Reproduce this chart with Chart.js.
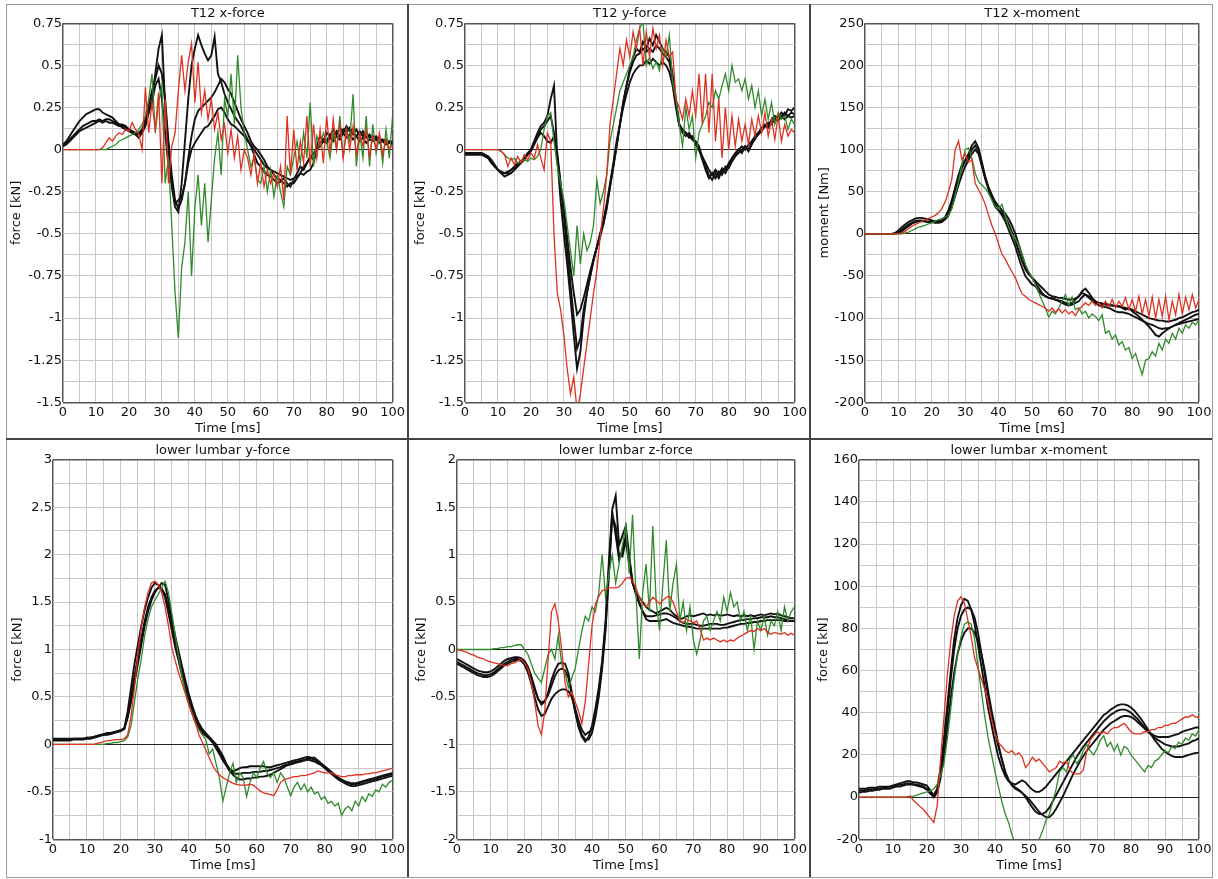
<!DOCTYPE html>
<html>
<head>
<meta charset="utf-8">
<title>T12 / lower lumbar loads</title>
<script src="https://cdn.jsdelivr.net/npm/chart.js@4.4.1/dist/chart.umd.min.js"></script>
<style>
body { margin: 0; background: #fff; }
#sheet { position: relative; width: 1218px; height: 879px; overflow: hidden; }
#sheet canvas { position: absolute; }
.rule { position: absolute; background: #444; }
#frame { position: absolute; left: 6px; top: 4px; width: 1205px; height: 872px; border: 1px solid #9a9a9a; }
</style>
</head>
<body>
<div id="sheet">
  <canvas id="c1" width="408" height="439" style="left:0;top:0"></canvas>
  <canvas id="c2" width="402" height="439" style="left:408px;top:0"></canvas>
  <canvas id="c3" width="408" height="439" style="left:810px;top:0"></canvas>
  <canvas id="c4" width="408" height="440" style="left:0;top:439px"></canvas>
  <canvas id="c5" width="402" height="440" style="left:408px;top:439px"></canvas>
  <canvas id="c6" width="408" height="440" style="left:810px;top:439px"></canvas>
  <div id="frame"></div>
  <div class="rule" style="left:407px;top:4px;width:2px;height:873px"></div>
  <div class="rule" style="left:809px;top:4px;width:2px;height:873px"></div>
  <div class="rule" style="left:6px;top:438px;width:1206px;height:2px"></div>
</div>
<script>
// time axis, ms
var timeMs = [0,1,2,3,4,5,6,7,8,9,10,11,12,13,14,15,16,17,18,19,20,21,22,23,24,25,26,27,28,29,
  30,31,32,33,34,35,36,37,38,39,40,41,42,43,44,45,46,47,48,49,50,51,52,53,54,55,56,57,58,59,
  60,61,62,63,64,65,66,67,68,69,70,71,72,73,74,75,76,77,78,79,80,81,82,83,84,85,86,87,88,89,
  90,91,92,93,94,95,96,97,98,99,100];

// ---- T12 x-force [kN]
var t12xForceK1 = [0.03,0.05,0.08,0.11,0.14,0.17,0.19,0.21,0.22,0.23,
  0.24,0.24,0.22,0.21,0.2,0.19,0.17,0.15,0.13,0.12,
  0.11,0.1,0.09,0.07,0.1,0.14,0.22,0.3,0.45,0.6,
  0.68,0.25,0.02,-0.22,-0.34,-0.37,-0.2,0.05,0.3,0.5,
  0.6,0.68,0.62,0.57,0.53,0.56,0.67,0.45,0.4,0.33,
  0.28,0.24,0.2,0.17,0.14,0.1,0.06,0.02,-0.03,-0.08,
  -0.1,-0.13,-0.15,-0.16,-0.18,-0.2,-0.19,-0.17,-0.2,-0.22,
  -0.18,-0.14,-0.1,-0.12,-0.08,-0.04,-0.06,0.02,0.08,0.05,
  0.1,0.08,0.12,0.09,0.13,0.1,0.14,0.11,0.09,0.12,
  0.08,0.11,0.07,0.09,0.06,0.08,0.05,0.06,0.04,0.05,0.03];
var t12xForceK2 = [0.02,0.04,0.06,0.08,0.1,0.12,0.14,0.15,0.16,0.17,
  0.17,0.18,0.17,0.18,0.18,0.17,0.16,0.15,0.15,0.14,
  0.12,0.1,0.09,0.1,0.12,0.18,0.26,0.35,0.42,0.5,
  0.45,0.3,0.05,-0.15,-0.3,-0.35,-0.3,-0.2,-0.05,0.08,
  0.18,0.23,0.25,0.27,0.29,0.31,0.34,0.38,0.42,0.4,
  0.36,0.33,0.28,0.23,0.18,0.14,0.1,0.05,0.02,0.0,
  -0.03,-0.06,-0.1,-0.12,-0.15,-0.17,-0.18,-0.2,-0.22,-0.2,
  -0.2,-0.17,-0.14,-0.1,-0.08,-0.05,-0.02,0.0,0.04,0.06,
  0.05,0.09,0.07,0.11,0.08,0.12,0.1,0.13,0.1,0.08,
  0.11,0.08,0.1,0.07,0.08,0.06,0.07,0.05,0.06,0.04,0.05];
var t12xForceK3 = [0.02,0.03,0.05,0.07,0.09,0.11,0.12,0.13,0.14,0.15,
  0.16,0.17,0.16,0.17,0.16,0.16,0.15,0.14,0.14,0.13,
  0.12,0.11,0.1,0.09,0.11,0.16,0.22,0.28,0.38,0.42,
  0.3,0.1,-0.1,-0.2,-0.32,-0.3,-0.28,-0.2,-0.08,0.0,
  0.04,0.07,0.1,0.13,0.14,0.17,0.2,0.24,0.25,0.22,
  0.18,0.15,0.14,0.12,0.1,0.08,0.05,0.03,0.0,-0.03,
  -0.06,-0.09,-0.11,-0.12,-0.13,-0.14,-0.15,-0.16,-0.17,-0.18,
  -0.17,-0.16,-0.14,-0.15,-0.13,-0.12,-0.08,0.0,0.02,0.05,
  0.04,0.07,0.05,0.08,0.06,0.1,0.07,0.09,0.06,0.08,
  0.05,0.07,0.04,0.06,0.05,0.06,0.04,0.05,0.03,0.04,0.04];
var t12xForceRed = [0,0,0,0,0,0,0,0,0,0,
  0,0,0.01,0.04,0.07,0.05,0.08,0.1,0.09,0.12,
  0.11,0.16,0.12,0.09,0.0,0.37,0.1,0.28,0.12,0.34,
  -0.2,0.3,-0.2,0.02,0.1,0.35,0.56,0.35,0.52,0.63,
  0.28,0.52,0.22,0.35,0.18,0.3,0.12,0.22,0.06,0.15,
  -0.02,0.12,-0.05,0.08,-0.12,0.0,-0.05,-0.15,-0.02,-0.2,
  -0.08,-0.22,-0.12,-0.2,-0.14,-0.22,-0.1,-0.3,0.2,-0.15,
  0.12,-0.12,0.05,-0.08,0.2,-0.1,0.15,-0.05,0.12,-0.08,
  0.2,-0.02,0.18,0.0,0.15,-0.05,0.12,0.0,0.14,-0.03,
  0.1,0.02,0.12,-0.04,0.08,0.0,0.1,-0.03,0.06,0.0,0.03];
var t12xForceGreen = [0,0,0,0,0,0,0,0,0,0,
  0,0,0,0,0.01,0.02,0.03,0.05,0.06,0.07,
  0.08,0.09,0.1,0.12,0.15,0.2,0.3,0.45,0.1,0.28,
  0.38,-0.2,-0.05,-0.45,-0.85,-1.12,-0.7,-0.55,-0.25,-0.75,
  -0.35,-0.15,-0.45,-0.2,-0.55,-0.3,-0.05,0.1,-0.15,0.3,
  0.2,0.45,0.15,0.56,0.25,0.1,0.0,-0.1,-0.05,-0.18,
  -0.2,-0.1,-0.25,-0.12,-0.28,-0.15,-0.25,-0.34,-0.1,-0.15,
  -0.05,0.05,-0.08,0.1,-0.05,0.28,-0.1,0.08,0.02,0.1,
  0.05,-0.05,0.1,0.0,0.2,-0.05,0.12,0.05,0.33,-0.1,
  0.1,-0.05,0.2,-0.1,0.15,-0.02,0.08,-0.08,0.12,-0.05,0.2];

// ---- T12 y-force [kN]
var t12yForceK1 = [-0.02,-0.02,-0.02,-0.02,-0.02,-0.02,-0.03,-0.04,-0.06,-0.09,
  -0.12,-0.14,-0.16,-0.15,-0.14,-0.12,-0.1,-0.08,-0.06,-0.03,
  0.0,0.05,0.1,0.14,0.16,0.2,0.3,0.38,-0.05,-0.3,
  -0.5,-0.68,-0.88,-1.1,-1.3,-1.2,-1.0,-0.85,-0.75,-0.65,
  -0.58,-0.5,-0.44,-0.35,-0.22,-0.1,0.02,0.15,0.28,0.38,
  0.48,0.55,0.6,0.58,0.64,0.6,0.66,0.62,0.68,0.64,
  0.6,0.58,0.55,0.45,0.3,0.15,0.1,0.08,0.1,0.06,
  0.05,0.02,-0.05,-0.1,-0.15,-0.18,-0.14,-0.17,-0.12,-0.14,
  -0.1,-0.06,-0.03,0.0,-0.02,0.02,0.0,0.04,0.06,0.1,
  0.12,0.15,0.14,0.18,0.2,0.19,0.22,0.2,0.24,0.23,0.25];
var t12yForceK2 = [-0.02,-0.02,-0.02,-0.02,-0.02,-0.02,-0.03,-0.05,-0.07,-0.1,
  -0.12,-0.13,-0.14,-0.13,-0.12,-0.11,-0.09,-0.07,-0.05,-0.03,
  -0.01,0.03,0.07,0.1,0.08,0.05,0.04,0.08,-0.05,-0.2,
  -0.35,-0.52,-0.7,-0.85,-0.98,-0.95,-0.88,-0.8,-0.72,-0.65,
  -0.58,-0.5,-0.42,-0.32,-0.2,-0.08,0.05,0.15,0.25,0.33,
  0.4,0.45,0.48,0.5,0.5,0.53,0.51,0.54,0.52,0.5,
  0.52,0.5,0.46,0.38,0.25,0.14,0.12,0.1,0.08,0.06,
  0.04,0.0,-0.04,-0.08,-0.12,-0.15,-0.12,-0.15,-0.11,-0.12,
  -0.08,-0.05,-0.02,0.0,0.02,0.0,0.03,0.05,0.08,0.1,
  0.13,0.14,0.16,0.15,0.18,0.17,0.2,0.18,0.2,0.19,0.2];
var t12yForceK3 = [-0.03,-0.03,-0.03,-0.03,-0.03,-0.03,-0.04,-0.05,-0.08,-0.1,
  -0.12,-0.14,-0.14,-0.14,-0.12,-0.1,-0.08,-0.07,-0.05,-0.02,
  0.0,0.04,0.08,0.12,0.14,0.17,0.2,0.1,-0.02,-0.2,
  -0.4,-0.6,-0.8,-1.0,-1.18,-1.12,-0.95,-0.85,-0.75,-0.66,
  -0.58,-0.52,-0.44,-0.34,-0.22,-0.1,0.02,0.15,0.28,0.38,
  0.46,0.52,0.56,0.57,0.6,0.58,0.6,0.58,0.62,0.6,
  0.57,0.55,0.52,0.42,0.28,0.15,0.12,0.1,0.07,0.08,
  0.03,0.0,-0.06,-0.12,-0.17,-0.14,-0.17,-0.13,-0.15,-0.1,
  -0.11,-0.07,-0.04,-0.02,0.0,0.02,-0.01,0.03,0.07,0.09,
  0.11,0.14,0.13,0.16,0.18,0.2,0.19,0.22,0.2,0.22,0.21];
var t12yForceRed = [0,0,0,0,0,0,0,0,0,0,
  0,-0.01,-0.03,-0.1,-0.05,-0.09,-0.04,-0.08,-0.03,-0.06,
  -0.02,-0.05,0.03,-0.05,-0.12,0.1,0.05,-0.5,-0.85,-0.95,
  -1.1,-1.3,-1.45,-1.35,-1.55,-1.45,-1.3,-1.15,-1.0,-0.85,
  -0.72,-0.52,-0.35,-0.15,0.15,0.3,0.45,0.6,0.5,0.65,
  0.55,0.7,0.6,0.72,0.5,0.7,0.55,0.72,0.6,0.68,
  0.5,0.65,0.55,0.58,0.3,0.25,0.18,0.3,0.2,0.35,
  0.2,0.45,0.15,0.45,0.1,0.45,0.05,0.3,-0.05,0.25,
  0.0,0.2,0.02,0.18,0.05,0.15,0.03,0.18,0.08,0.2,
  0.1,0.22,0.08,0.18,0.06,0.2,0.05,0.15,0.08,0.12,0.1];
var t12yForceGreen = [0,0,0,0,0,0,0,0,0,0,
  0,-0.01,-0.03,-0.05,-0.06,-0.05,-0.08,-0.07,-0.06,-0.07,
  -0.05,-0.06,-0.04,0.0,0.12,0.2,0.22,0.05,-0.1,-0.2,
  -0.3,-0.45,-0.6,-0.75,-0.45,-0.68,-0.5,-0.6,-0.55,-0.45,
  -0.18,-0.32,-0.25,-0.15,0.05,0.15,0.25,0.35,0.4,0.45,
  0.5,0.55,0.65,0.72,0.76,0.5,0.55,0.48,0.52,0.47,
  0.6,0.55,0.68,0.4,0.3,0.15,0.02,0.25,0.12,0.2,
  -0.05,0.1,0.15,0.2,0.28,0.25,0.35,0.3,0.38,0.45,
  0.35,0.5,0.4,0.42,0.35,0.42,0.3,0.38,0.25,0.35,
  0.2,0.3,0.18,0.28,0.15,0.22,0.18,0.2,0.12,0.18,0.15];

// ---- T12 x-moment [Nm]
var t12xMomentK1 = [0,0,0,0,0,0,0,0,0,1,
  4,8,11,14,16,18,19,19,18,17,
  16,15,15,16,20,28,40,55,70,82,
  88,95,105,110,102,85,68,55,45,35,
  28,22,15,5,-5,-15,-28,-40,-50,-55,
  -60,-62,-68,-72,-74,-76,-77,-78,-79,-80,
  -82,-84,-82,-78,-74,-68,-65,-70,-76,-80,
  -82,-83,-84,-85,-85,-86,-86,-88,-90,-88,
  -92,-95,-98,-102,-106,-110,-115,-120,-122,-118,
  -115,-112,-110,-108,-106,-104,-102,-100,-98,-96,-95];
var t12xMomentK2 = [0,0,0,0,0,0,0,0,0,0.5,
  2,5,8,11,13,15,16,16,15,14,
  14,13,13,14,18,26,38,52,66,78,
  86,92,100,105,98,82,65,52,42,32,
  28,25,20,12,2,-8,-20,-32,-42,-48,
  -52,-58,-64,-70,-74,-76,-76,-78,-80,-82,
  -84,-85,-84,-82,-80,-75,-72,-74,-78,-82,
  -85,-86,-87,-88,-90,-92,-93,-93,-94,-95,
  -97,-99,-101,-103,-105,-107,-108,-110,-112,-113,
  -112,-112,-110,-108,-107,-106,-105,-104,-103,-102,-101];
var t12xMomentK3 = [0,0,0,0,0,0,0,0,0,0,
  1,3,6,9,12,14,15,15,15,14,
  14,14,15,15,17,22,32,45,58,70,
  80,88,95,100,95,80,66,55,46,38,
  33,28,24,18,10,0,-12,-25,-38,-46,
  -52,-56,-60,-64,-68,-72,-74,-75,-76,-76,
  -77,-78,-78,-77,-74,-70,-72,-76,-79,-81,
  -82,-83,-83,-84,-85,-86,-86,-87,-88,-89,
  -90,-92,-94,-96,-98,-100,-101,-102,-103,-103,
  -104,-104,-103,-102,-100,-99,-97,-95,-93,-92,-90];
var t12xMomentRed = [0,0,0,0,0,0,0,0,0,0,
  0,1,3,6,9,11,13,15,17,18,
  20,22,25,30,38,50,65,100,110,88,
  95,85,88,60,52,45,35,22,10,0,
  -12,-24,-30,-38,-45,-52,-62,-71,-74,-78,
  -80,-82,-84,-86,-88,-92,-88,-93,-89,-94,
  -90,-95,-92,-97,-90,-86,-82,-85,-80,-85,
  -82,-88,-80,-87,-78,-88,-80,-86,-76,-90,
  -78,-92,-74,-95,-78,-98,-75,-100,-78,-98,
  -74,-102,-80,-96,-72,-95,-75,-90,-72,-88,-78];
var t12xMomentGreen = [0,0,0,0,0,0,0,0,0,0,
  0,0,1,2,4,6,8,9,10,12,
  13,15,17,18,20,22,30,45,62,82,
  100,102,90,72,62,58,54,48,40,32,
  30,35,22,8,0,-6,-12,-24,-36,-45,
  -52,-60,-70,-79,-88,-99,-92,-95,-88,-80,
  -72,-85,-75,-90,-88,-95,-92,-100,-95,-98,
  -103,-96,-118,-115,-125,-120,-132,-128,-138,-135,
  -148,-142,-155,-167,-150,-148,-140,-145,-130,-138,
  -125,-130,-118,-125,-112,-118,-108,-112,-105,-108,-102];

// ---- lower lumbar y-force [kN]
var lumbarYForceK1 = [0.05,0.05,0.05,0.05,0.05,0.05,0.06,0.06,0.06,0.06,
  0.07,0.07,0.08,0.09,0.1,0.1,0.11,0.12,0.13,0.14,
  0.15,0.17,0.35,0.6,0.85,1.05,1.25,1.42,1.55,1.65,
  1.7,1.68,1.64,1.55,1.38,1.2,1.02,0.88,0.72,0.58,
  0.44,0.33,0.24,0.17,0.12,0.09,0.06,0.02,-0.04,-0.1,
  -0.17,-0.22,-0.26,-0.28,-0.27,-0.25,-0.24,-0.24,-0.23,-0.23,
  -0.23,-0.23,-0.23,-0.24,-0.24,-0.23,-0.22,-0.21,-0.2,-0.19,
  -0.18,-0.17,-0.16,-0.15,-0.14,-0.13,-0.14,-0.14,-0.17,-0.2,
  -0.23,-0.26,-0.29,-0.32,-0.35,-0.37,-0.39,-0.4,-0.41,-0.41,
  -0.4,-0.39,-0.38,-0.37,-0.36,-0.35,-0.34,-0.33,-0.32,-0.31,-0.3];
var lumbarYForceK2 = [0.04,0.04,0.04,0.04,0.04,0.04,0.05,0.05,0.05,0.05,
  0.06,0.06,0.07,0.08,0.09,0.1,0.1,0.11,0.12,0.13,
  0.14,0.16,0.3,0.5,0.72,0.92,1.12,1.3,1.45,1.55,
  1.62,1.65,1.64,1.58,1.45,1.28,1.1,0.94,0.78,0.63,
  0.5,0.38,0.28,0.2,0.14,0.1,0.07,0.03,-0.02,-0.08,
  -0.15,-0.22,-0.28,-0.32,-0.35,-0.37,-0.37,-0.36,-0.36,-0.35,
  -0.35,-0.34,-0.34,-0.33,-0.32,-0.3,-0.28,-0.26,-0.24,-0.22,
  -0.21,-0.2,-0.19,-0.18,-0.17,-0.16,-0.17,-0.18,-0.2,-0.22,
  -0.25,-0.28,-0.31,-0.34,-0.37,-0.39,-0.41,-0.43,-0.44,-0.44,
  -0.43,-0.42,-0.41,-0.4,-0.39,-0.38,-0.37,-0.36,-0.35,-0.34,-0.33];
var lumbarYForceK3 = [0.06,0.06,0.06,0.06,0.06,0.06,0.06,0.06,0.06,0.06,
  0.07,0.07,0.08,0.09,0.1,0.11,0.12,0.12,0.13,0.14,
  0.15,0.17,0.28,0.45,0.65,0.85,1.05,1.25,1.4,1.52,
  1.6,1.65,1.7,1.68,1.52,1.32,1.14,0.98,0.82,0.67,
  0.53,0.41,0.3,0.22,0.16,0.12,0.08,0.04,0.0,-0.06,
  -0.12,-0.2,-0.26,-0.3,-0.31,-0.31,-0.3,-0.3,-0.3,-0.29,
  -0.29,-0.29,-0.28,-0.28,-0.27,-0.26,-0.25,-0.24,-0.22,-0.21,
  -0.2,-0.19,-0.18,-0.17,-0.16,-0.15,-0.15,-0.16,-0.18,-0.21,
  -0.24,-0.27,-0.3,-0.33,-0.36,-0.38,-0.4,-0.41,-0.42,-0.42,
  -0.41,-0.4,-0.39,-0.38,-0.37,-0.36,-0.35,-0.34,-0.33,-0.32,-0.31];
var lumbarYForceRed = [0,0,0,0,0,0,0,0,0,0,
  0,0,0,0.01,0.02,0.03,0.04,0.04,0.05,0.05,
  0.05,0.06,0.1,0.3,0.6,0.95,1.25,1.45,1.6,1.7,
  1.72,1.68,1.6,1.45,1.25,1.02,0.88,0.75,0.64,0.53,
  0.42,0.32,0.22,0.1,0.02,-0.06,-0.14,-0.22,-0.28,-0.32,
  -0.35,-0.37,-0.39,-0.41,-0.42,-0.43,-0.43,-0.43,-0.42,-0.43,
  -0.46,-0.49,-0.51,-0.52,-0.53,-0.54,-0.48,-0.4,-0.37,-0.36,
  -0.35,-0.34,-0.34,-0.33,-0.33,-0.32,-0.31,-0.3,-0.28,-0.29,
  -0.3,-0.3,-0.3,-0.32,-0.33,-0.34,-0.34,-0.33,-0.33,-0.32,
  -0.32,-0.32,-0.31,-0.31,-0.3,-0.3,-0.29,-0.28,-0.27,-0.26,-0.25];
var lumbarYForceGreen = [0,0,0,0,0,0,0,0,0,0,
  0,0,0,0,0,0,0.01,0.01,0.02,0.02,
  0.03,0.04,0.08,0.2,0.45,0.7,0.9,1.15,1.32,1.45,
  1.52,1.58,1.65,1.72,1.6,1.38,1.15,0.92,0.72,0.55,
  0.42,0.32,0.22,0.15,0.1,0.05,-0.1,-0.05,-0.2,-0.35,
  -0.6,-0.45,-0.3,-0.2,-0.4,-0.3,-0.35,-0.55,-0.4,-0.3,
  -0.35,-0.25,-0.18,-0.3,-0.35,-0.3,-0.4,-0.3,-0.35,-0.45,
  -0.54,-0.45,-0.4,-0.48,-0.42,-0.5,-0.45,-0.52,-0.5,-0.58,
  -0.55,-0.62,-0.6,-0.65,-0.62,-0.75,-0.68,-0.65,-0.7,-0.6,
  -0.65,-0.55,-0.6,-0.52,-0.55,-0.48,-0.5,-0.42,-0.45,-0.4,-0.38];

// ---- lower lumbar z-force [kN]
var lumbarZForceK1 = [-0.1,-0.12,-0.14,-0.16,-0.18,-0.2,-0.22,-0.23,-0.24,-0.24,
  -0.23,-0.21,-0.18,-0.15,-0.12,-0.1,-0.09,-0.08,-0.08,-0.09,
  -0.12,-0.18,-0.28,-0.4,-0.52,-0.58,-0.55,-0.45,-0.32,-0.22,
  -0.15,-0.14,-0.15,-0.25,-0.45,-0.65,-0.82,-0.92,-0.97,-0.92,
  -0.8,-0.62,-0.4,-0.12,0.3,0.94,1.48,1.62,1.1,1.2,
  1.3,1.0,0.7,0.6,0.55,0.5,0.45,0.42,0.4,0.38,
  0.4,0.42,0.44,0.42,0.38,0.35,0.32,0.33,0.35,0.36,
  0.35,0.36,0.37,0.38,0.36,0.37,0.36,0.37,0.36,0.36,
  0.37,0.36,0.35,0.36,0.35,0.36,0.35,0.36,0.35,0.36,
  0.37,0.36,0.37,0.38,0.37,0.38,0.36,0.35,0.34,0.33,0.33];
var lumbarZForceK2 = [-0.15,-0.17,-0.19,-0.21,-0.23,-0.25,-0.27,-0.28,-0.29,-0.29,
  -0.28,-0.26,-0.23,-0.2,-0.17,-0.15,-0.13,-0.12,-0.11,-0.12,
  -0.16,-0.24,-0.36,-0.5,-0.63,-0.7,-0.68,-0.6,-0.52,-0.47,
  -0.44,-0.42,-0.42,-0.44,-0.5,-0.62,-0.75,-0.85,-0.9,-0.87,
  -0.85,-0.68,-0.45,-0.15,0.25,0.85,1.4,1.3,1.0,0.98,
  1.15,0.9,0.7,0.6,0.5,0.4,0.32,0.3,0.3,0.3,
  0.3,0.31,0.32,0.3,0.28,0.27,0.26,0.25,0.24,0.24,
  0.23,0.22,0.22,0.22,0.22,0.22,0.22,0.22,0.22,0.23,
  0.23,0.24,0.25,0.26,0.27,0.27,0.28,0.28,0.29,0.29,
  0.3,0.3,0.31,0.31,0.31,0.31,0.31,0.3,0.3,0.3,0.3];
var lumbarZForceK3 = [-0.13,-0.15,-0.17,-0.19,-0.21,-0.23,-0.25,-0.26,-0.27,-0.27,
  -0.26,-0.24,-0.21,-0.18,-0.15,-0.13,-0.11,-0.1,-0.1,-0.11,
  -0.14,-0.2,-0.3,-0.42,-0.52,-0.56,-0.54,-0.48,-0.38,-0.28,
  -0.22,-0.2,-0.22,-0.3,-0.48,-0.66,-0.8,-0.9,-0.95,-0.95,
  -0.88,-0.72,-0.5,-0.2,0.2,0.8,1.45,1.2,0.95,1.05,
  1.2,0.95,0.72,0.58,0.48,0.4,0.35,0.35,0.35,0.36,
  0.37,0.38,0.38,0.37,0.35,0.33,0.3,0.28,0.27,0.27,
  0.27,0.26,0.25,0.25,0.26,0.27,0.27,0.27,0.26,0.26,
  0.27,0.28,0.29,0.3,0.31,0.31,0.32,0.32,0.33,0.33,
  0.34,0.34,0.34,0.35,0.34,0.34,0.33,0.32,0.31,0.3,0.3];
var lumbarZForceRed = [0.0,-0.01,-0.02,-0.03,-0.05,-0.06,-0.08,-0.09,-0.1,-0.12,
  -0.13,-0.14,-0.15,-0.16,-0.17,-0.17,-0.15,-0.14,-0.12,-0.1,
  -0.14,-0.2,-0.35,-0.55,-0.8,-0.9,-0.65,-0.1,0.4,0.48,
  0.3,0.0,-0.35,-0.5,-0.45,-0.55,-0.65,-0.78,-0.55,-0.15,
  0.25,0.48,0.56,0.62,0.63,0.65,0.65,0.65,0.66,0.7,
  0.75,0.76,0.72,0.65,0.55,0.48,0.45,0.5,0.55,0.52,
  0.48,0.52,0.55,0.56,0.5,0.4,0.3,0.28,0.32,0.3,
  0.28,0.3,0.22,0.1,0.12,0.1,0.12,0.1,0.08,0.1,
  0.08,0.1,0.09,0.12,0.14,0.16,0.18,0.2,0.19,0.22,
  0.2,0.22,0.18,0.16,0.18,0.17,0.16,0.18,0.15,0.17,0.15];
var lumbarZForceGreen = [0,0,0,0,0,0,0,0,0,0,
  0,0.01,0.01,0.02,0.02,0.03,0.03,0.04,0.05,0.05,
  0.0,-0.05,-0.15,-0.25,-0.3,-0.35,-0.2,-0.05,0.0,-0.1,
  0.15,-0.15,-0.25,-0.4,-0.3,-0.2,0.0,0.2,0.35,0.3,
  0.45,0.4,0.6,1.0,0.55,0.8,1.0,0.7,0.9,1.1,
  1.3,0.8,1.42,0.6,-0.1,0.6,0.9,0.4,1.3,0.5,
  0.2,0.7,1.15,0.4,0.7,0.9,0.3,0.5,0.2,0.45,
  0.1,-0.05,0.1,0.3,0.35,0.2,0.3,0.4,0.3,0.55,
  0.4,0.6,0.45,0.5,0.3,0.4,0.2,0.35,0.0,0.3,
  0.2,0.35,0.15,0.3,0.25,0.4,0.2,0.45,0.3,0.4,0.45];

// ---- lower lumbar x-moment
var lumbarXMomentK1 = [4,4,4,4.5,4.5,4.5,5,5,5,5,
  5.5,6,6.5,7,7.5,7.5,7,7,6.5,6,
  5.5,3,1,4,14,28,44,60,75,85,
  91,94,93,89,82,72,62,52,42,34,
  26,19,14,10,7.5,6.5,6,7,8,7,
  5,3.5,2.5,2.5,3.5,5,7,9,11,13,
  15,17,19,21,23,25,27,29,31,33,
  35,37,39,40,41.5,42.5,43.5,44,44,43.5,
  42.5,41,39,37,34.5,32,29.5,27,25,23,
  21.5,20.5,19.5,19,19,19,19.5,20,20.5,21,21];
var lumbarXMomentK2 = [3,3,3.5,3.5,4,4,4,4.5,4.5,5,
  5,5.5,6,6,6.5,6.5,6,6,5.5,5,
  4,2,0,3,12,25,40,56,70,80,
  86,89,90,89,85,78,68,58,48,39,
  31,24,18,12,8,6,4.5,3.5,2,0,
  -2.5,-5,-7,-8,-8,-7,-5,-2,1,4,
  7,10,13,16,19,21.5,24,26,28,30,
  32,34,36,37.5,39,40,41,41.5,41.5,41,
  40,38.5,37,35,33,31,29.5,28,27,26,
  25,24.5,24,24,24,24.5,25,25.5,26.5,27,28];
var lumbarXMomentK3 = [2,2.5,2.5,3,3,3.5,3.5,4,4,4,
  4.5,5,5,5.5,6,6,6,5.5,5,4.5,
  3.5,1.5,0,2,9,20,33,47,59,68,
  74,78,80,80,78,74,68,60,50,41,
  33,25,18,12,8,5.5,4,3,2,0.5,
  -1,-3,-5,-7,-8.5,-9.5,-9.5,-8,-5.5,-2.5,
  0.5,4,7.5,11,14,17,19.5,22,24,26,
  28,30,32,33.5,35,36,37,38,38.5,38.5,
  38,37,35.5,34,32.5,31,30,29,28.5,28.5,
  28.5,28.5,29,29.5,30,31,31.5,32,32.5,33,33];
var lumbarXMomentRed = [0,0,0,0,0,0,0,0,0,0,
  0,0,0,0,0,0.5,-1.5,-3,-4.5,-6,
  -8,-10,-12,-4,18,38,58,74,86,93,
  95,92,84,76,66,61,56,51,45,37,
  30,26,24,22,21,22,20,21,19,14,
  16,19,17,18,16,14,12,13,14,17,
  16,17,13,11,11,11,13,22,27,29,
  31,30,31,30,32,33,33,34,35,33,
  31,30,30,30,31,31,32,32,33,33,
  34,34,35,35,36,37,38,38,39,38,38];
var lumbarXMomentGreen = [0,0,0,0,0,0,0,0,0,0,
  0,0,0,0,0,0.2,0.5,1,1.5,2,
  2.5,3,4,6,10,16,28,42,56,68,
  76,82,83,82,75,62,50,38,28,20,
  12,5,-2,-8,-12,-18,-22,-26,-30,-32,
  -33,-32,-28,-20,-16,-11,-8,-2,4,12,
  14,12,18,20,16,18,22,25,22,20,
  23,27,29,24,26,22,25,20,24,23,
  20,18,16,14,12,15,14,17,18,20,
  22,21,24,23,26,25,28,27,30,29,32];

var FONT = '"DejaVu Sans", "Liberation Sans", sans-serif';
var RED = '#e0301f', GREEN = '#2f8a2a', BLACK = '#111111';
var TEXT = '#111';

function points(values) {
  return timeMs.map(function (t, i) { return { x: t, y: values[i] }; });
}

function isMultiple(v, step) {
  var k = v / step;
  return Math.abs(k - Math.round(k)) < 1e-6;
}

function makePanel(id, title, yTitle, yMin, yMax, yGrid, yLabel, series, g) {
  var ds = [
    { data: points(series.red), borderColor: RED, borderWidth: 1.3 },
    { data: points(series.green), borderColor: GREEN, borderWidth: 1.3 },
    { data: points(series.k1), borderColor: BLACK, borderWidth: 1.9 },
    { data: points(series.k2), borderColor: BLACK, borderWidth: 1.9 },
    { data: points(series.k3), borderColor: BLACK, borderWidth: 1.9 }
  ];
  ds.forEach(function (d) { d.pointRadius = 0; d.tension = 0; d.fill = false; });

  var ctx = document.getElementById(id).getContext('2d');
  return new Chart(ctx, {
    type: 'line',
    data: { datasets: ds },
    options: {
      responsive: false,
      animation: false,
      events: [],
      layout: { padding: { left: 0, right: g.padR, top: 0, bottom: g.padB } },
      plugins: {
        legend: { display: false },
        tooltip: { enabled: false },
        title: {
          display: true, text: title, fullSize: false, color: TEXT,
          font: { family: FONT, size: 13, weight: 'normal' },
          padding: { top: g.tTop, bottom: g.tBot }
        }
      },
      scales: {
        x: {
          type: 'linear', min: 0, max: 100,
          afterFit: function (s) { s.height = g.xh; },
          border: { display: false },
          grid: {
            drawTicks: false,
            color: function (c) { var v = c.tick.value; return (v === 0 || v === 100) ? '#555' : '#c8c8c8'; },
            lineWidth: function (c) { var v = c.tick.value; return (v === 0 || v === 100) ? 1.5 : 1; }
          },
          ticks: {
            stepSize: 5, autoSkip: false, maxRotation: 0, minRotation: 0, padding: 3,
            color: TEXT, font: { family: FONT, size: 13 },
            callback: function (v) { return v % 10 === 0 ? String(v) : ''; }
          },
          title: {
            display: true, text: 'Time [ms]', color: TEXT,
            font: { family: FONT, size: 13 }, padding: { top: 0, bottom: g.xtPad }
          }
        },
        y: {
          type: 'linear', min: yMin, max: yMax,
          afterFit: function (s) { s.width = g.yw; },
          border: { display: false },
          grid: {
            drawTicks: false,
            color: function (c) {
              var v = c.tick.value;
              if (v === yMin || v === yMax) return '#555';
              if (v === 0) return '#222';
              return '#c8c8c8';
            },
            lineWidth: function (c) {
              var v = c.tick.value;
              return (v === yMin || v === yMax) ? 1.5 : 1;
            }
          },
          ticks: {
            stepSize: yGrid, autoSkip: false, padding: 1,
            color: TEXT, font: { family: FONT, size: 13 },
            callback: function (v) { return isMultiple(v, yLabel) ? String(parseFloat(v.toFixed(3))) : ''; }
          },
          title: {
            display: true, text: yTitle, color: TEXT,
            font: { family: FONT, size: 13 }, padding: { top: g.ytPad, bottom: 0 }
          }
        }
      }
    }
  });
}

var topRow = { tTop: 6.2, tBot: 1.5, xh: 36.7, padB: 0, xtPad: 2.2 };
var botRow = { tTop: 4.2, tBot: 0.9, xh: 37, padB: 2.7, xtPad: 3 };
function geo(row, yw, padR, ytPad) {
  return Object.assign({}, row, { yw: yw, padR: padR, ytPad: ytPad });
}

makePanel('c1', 'T12 x-force', 'force [kN]', -1.5, 0.75, 0.125, 0.25,
  { k1: t12xForceK1, k2: t12xForceK2, k3: t12xForceK3, red: t12xForceRed, green: t12xForceGreen },
  geo(topRow, 63, 15, 9.2));
makePanel('c2', 'T12 y-force', 'force [kN]', -1.5, 0.75, 0.125, 0.25,
  { k1: t12yForceK1, k2: t12yForceK2, k3: t12yForceK3, red: t12yForceRed, green: t12yForceGreen },
  geo(topRow, 57, 14, 5.2));
makePanel('c3', 'T12 x-moment', 'moment [Nm]', -200, 250, 25, 50,
  { k1: t12xMomentK1, k2: t12xMomentK2, k3: t12xMomentK3, red: t12xMomentRed, green: t12xMomentGreen },
  geo(topRow, 55, 19, 7.2));
makePanel('c4', 'lower lumbar y-force', 'force [kN]', -1, 3, 0.25, 0.5,
  { k1: lumbarYForceK1, k2: lumbarYForceK2, k3: lumbarYForceK3, red: lumbarYForceRed, green: lumbarYForceGreen },
  geo(botRow, 53, 15, 9.7));
makePanel('c5', 'lower lumbar z-force', 'force [kN]', -2, 2, 0.25, 0.5,
  { k1: lumbarZForceK1, k2: lumbarZForceK2, k3: lumbarZForceK3, red: lumbarZForceRed, green: lumbarZForceGreen },
  geo(botRow, 49, 14, 5.7));
makePanel('c6', 'lower lumbar x-moment', 'force [kN]', -20, 160, 10, 20,
  { k1: lumbarXMomentK1, k2: lumbarXMomentK2, k3: lumbarXMomentK3, red: lumbarXMomentRed, green: lumbarXMomentGreen },
  geo(botRow, 49, 19, 6.2));
</script>
</body>
</html>
